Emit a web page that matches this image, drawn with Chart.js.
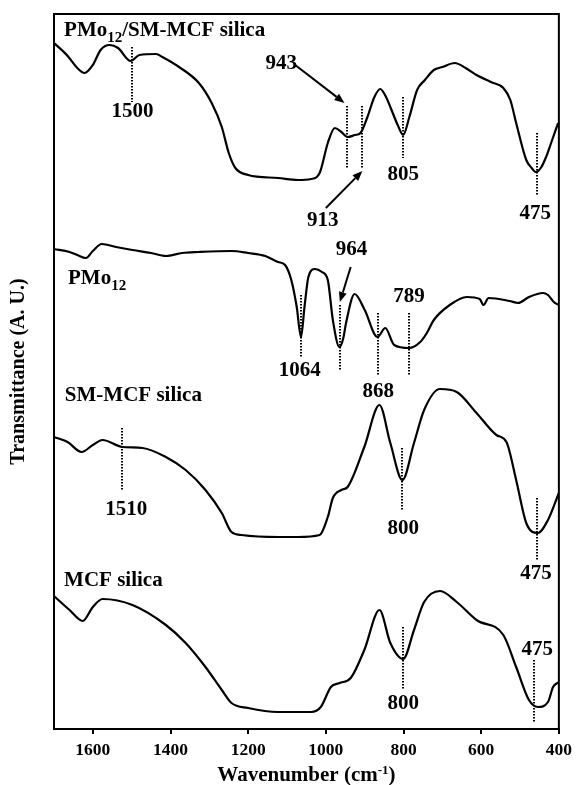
<!DOCTYPE html>
<html><head><meta charset="utf-8">
<script src="https://cdn.jsdelivr.net/npm/chart.js@4/dist/chart.umd.min.js"></script>
<style>html,body{margin:0;padding:0;background:#fff;}#wrap{width:578px;height:785px;position:relative;}</style>
</head><body><div id="wrap"><canvas id="c"></canvas></div>
<script>
// x axis tick labels (wavenumber, cm-1)
const tickValues = [1600, 1400, 1200, 1000, 800, 600, 400];

// PMo12/SM-MCF silica (top trace)
const wnA = [1700,1667,1640,1621,1600,1580,1557,1535,1503,1480,1437,1421,1378,1327,1294,1268,1250,1233,1200,1123,1072,1038,1016,995,977,960,944,925,911,893,875,860,845,834,815,801,785,765,745,722,700,668,640,612,575,543,525,510,484,470,459,445,433,420,402];
const tA  = [686,674,661,656,664,679,684,681,668,674,675,672,662,646,626,602,576,561,554,551,549,550,556,586,601,597,592,594,596,612,632,640,632,622,604,594,612,639,649,659,662,666,661,654,647,641,629,606,569,561,557,562,572,586,606];

// PMo12
const wnB = [1700,1660,1640,1618,1600,1577,1540,1498,1450,1412,1370,1327,1243,1200,1156,1123,1105,1089,1075,1064,1055,1045,1028,1010,995,982,965,955,948,926,900,867,847,824,786,757,740,722,681,637,604,594,581,527,505,477,441,428,413,400];
const tB  = [480,477,474,471,478,485,482,479,476,473,476,477,478,476,473,467,464,449,422,392,422,452,460,457,449,409,382,391,406,435,419,392,401,384,381,387,396,409,424,432,430,424,431,428,426,432,436,434,427,424];

// SM-MCF silica
const wnC = [1700,1665,1629,1600,1575,1524,1472,1412,1361,1310,1268,1243,1217,1123,1072,1016,995,982,960,944,901,862,834,803,773,747,706,663,612,561,535,510,484,454,428,400];
const tC  = [292,287,277,284,289,282,281,272,259,239,216,197,194,192,192,194,212,231,239,242,282,324,286,249,286,319,340,337,316,294,287,249,206,196,209,236];

// MCF silica
const wnD = [1700,1660,1626,1600,1575,1498,1412,1361,1310,1268,1243,1200,1123,1038,1013,987,965,936,901,862,834,801,773,747,706,663,612,543,510,477,454,428,415,400];
const tD  = [133,119,108,122,130,124,104,86,62,39,26,21,17,17,22,42,46,51,79,119,86,70,99,127,138,127,109,94,62,29,22,27,42,47];

// series names ({..} = subscript) and where they are written (wavenumber, a.u.)
const seriesNames   = ['PMo{12}/SM-MCF silica', 'PMo{12}', 'SM-MCF silica', 'MCF silica'];
const seriesNameWn  = [1674, 1664, 1672, 1674];
const seriesNameT   = [693, 445, 328, 143];

// dotted peak markers (wavenumber, top a.u., bottom a.u.)
const markWn  = [1500, 946, 908, 801, 456, 1064, 964, 867, 786, 1524, 803, 456, 801, 464];
const markTop = [682, 623, 623, 632, 596, 434, 424, 416, 416, 301, 281, 231, 102, 69];
const markBot = [627, 561, 561, 571, 534, 372, 359, 353, 353, 239, 219, 169, 39, 6];

// peak labels
const peakText = ['1500','943','913','805','475','964','789','1064','868','1510','800','475','475','800'];
const peakWn   = [1498, 1115, 1008, 801, 461, 934, 786, 1067, 865, 1514, 801, 459, 456, 801];
const peakT    = [617, 665, 508, 554, 515, 479, 432, 358, 337, 219, 200, 155, 79, 25];

// arrows (from -> to), wavenumber / a.u.
const arrowFromWn = [1079, 1000, 936];
const arrowFromT  = [664, 521, 462];
const arrowToWn   = [952, 906, 964];
const arrowToT    = [626, 558, 427];

const FONT = '"Liberation Serif", "Times New Roman", serif';

function toXY(w, t) { return w.map((v, i) => ({ x: v, y: t[i] })); }
function mk(w, t) {
  return { data: toXY(w, t), borderColor: '#000', borderWidth: 2.2, pointRadius: 0,
           cubicInterpolationMode: 'monotone', fill: false };
}
function richParts(s) {
  const out = []; const re = /\{([^}]*)\}/g; let last = 0, m;
  while ((m = re.exec(s))) {
    if (m.index > last) out.push({ t: s.slice(last, m.index), sub: false });
    out.push({ t: m[1], sub: true }); last = re.lastIndex;
  }
  if (last < s.length) out.push({ t: s.slice(last), sub: false });
  return out;
}

const annot = {
  id: 'annot',
  afterDatasetsDraw(chart) {
    const { ctx, scales: { x, y } } = chart;
    ctx.save();
    ctx.strokeStyle = '#000'; ctx.fillStyle = '#000';
    // dotted markers
    ctx.lineWidth = 2; ctx.setLineDash([1.5, 1.5]);
    markWn.forEach((w, i) => {
      const px = Math.round(x.getPixelForValue(w));
      ctx.beginPath();
      ctx.moveTo(px, y.getPixelForValue(markTop[i]));
      ctx.lineTo(px, y.getPixelForValue(markBot[i]));
      ctx.stroke();
    });
    ctx.setLineDash([]);
    // arrows
    ctx.lineWidth = 2;
    arrowFromWn.forEach((w, i) => {
      const x1 = x.getPixelForValue(w), y1 = y.getPixelForValue(arrowFromT[i]);
      const x2 = x.getPixelForValue(arrowToWn[i]), y2 = y.getPixelForValue(arrowToT[i]);
      const ang = Math.atan2(y2 - y1, x2 - x1), L = 10, H = 4;
      const bx = x2 - L * Math.cos(ang), by = y2 - L * Math.sin(ang);
      ctx.beginPath(); ctx.moveTo(x1, y1); ctx.lineTo(bx, by); ctx.stroke();
      ctx.beginPath();
      ctx.moveTo(x2, y2);
      ctx.lineTo(bx + H * Math.sin(ang), by - H * Math.cos(ang));
      ctx.lineTo(bx - H * Math.sin(ang), by + H * Math.cos(ang));
      ctx.closePath(); ctx.fill();
    });
    // peak labels
    ctx.font = 'bold 21px ' + FONT; ctx.textAlign = 'center'; ctx.textBaseline = 'middle';
    peakText.forEach((s, i) => ctx.fillText(s, x.getPixelForValue(peakWn[i]), y.getPixelForValue(peakT[i])));
    // series names
    ctx.textAlign = 'left'; ctx.textBaseline = 'alphabetic';
    seriesNames.forEach((s, i) => {
      let px = x.getPixelForValue(seriesNameWn[i]); const py = y.getPixelForValue(seriesNameT[i]);
      richParts(s).forEach(p => {
        ctx.font = (p.sub ? 'bold 15px ' : 'bold 21px ') + FONT;
        ctx.fillText(p.t, px, py + (p.sub ? 6 : 0));
        px += ctx.measureText(p.t).width;
      });
    });
    ctx.restore();
  },
  afterDraw(chart) {
    const { ctx, chartArea: a } = chart;
    ctx.save();
    ctx.strokeStyle = '#000'; ctx.lineWidth = 2;
    ctx.strokeRect(a.left, a.top, a.right - a.left, a.bottom - a.top);
    // x axis title with superscript
    const parts = [{ t: 'Wavenumber (cm', sup: false }, { t: '-1', sup: true }, { t: ')', sup: false }];
    let w = 0;
    parts.forEach(p => { ctx.font = (p.sup ? 'bold 13px ' : 'bold 21px ') + FONT; w += ctx.measureText(p.t).width; });
    let px = (a.left + a.right) / 2 - w / 2; const base = chart.height - 4;
    ctx.fillStyle = '#000'; ctx.textAlign = 'left'; ctx.textBaseline = 'alphabetic';
    parts.forEach(p => {
      ctx.font = (p.sup ? 'bold 13px ' : 'bold 21px ') + FONT;
      ctx.fillText(p.t, px, base - (p.sup ? 7 : 0));
      px += ctx.measureText(p.t).width;
    });
    ctx.restore();
  }
};

new Chart(document.getElementById('c'), {
  type: 'line',
  data: { datasets: [mk(wnA, tA), mk(wnB, tB), mk(wnC, tC), mk(wnD, tD)] },
  options: {
    responsive: true, maintainAspectRatio: false, animation: false,
    layout: { padding: { top: 14, right: 15, left: 0, bottom: 0 } },
    plugins: { legend: { display: false }, tooltip: { enabled: false } },
    scales: {
      x: {
        type: 'linear', reverse: true, min: 400, max: 1700,
        afterBuildTicks: s => { s.ticks = tickValues.map(v => ({ value: v })); },
        afterFit: s => { s.height = 56; },
        ticks: { color: '#000', font: { family: FONT, size: 17.5, weight: 'bold' }, padding: 6,
                 maxRotation: 0, autoSkip: false, callback: v => String(v) },
        grid: { display: true, drawOnChartArea: false, drawTicks: true, tickLength: 5, color: '#000', lineWidth: 2 },
        border: { display: true, color: '#000', width: 2 }
      },
      y: {
        min: 0, max: 715,
        ticks: { display: false },
        grid: { display: false },
        border: { display: true, color: '#000', width: 2 },
        title: { display: true, text: 'Transmittance (A. U.)', color: '#000',
                 font: { family: FONT, size: 20, weight: 'bold' }, padding: { top: 7, bottom: 0 } },
        afterFit: s => { s.width = 54; }
      }
    }
  },
  plugins: [annot]
});
</script></body></html>
